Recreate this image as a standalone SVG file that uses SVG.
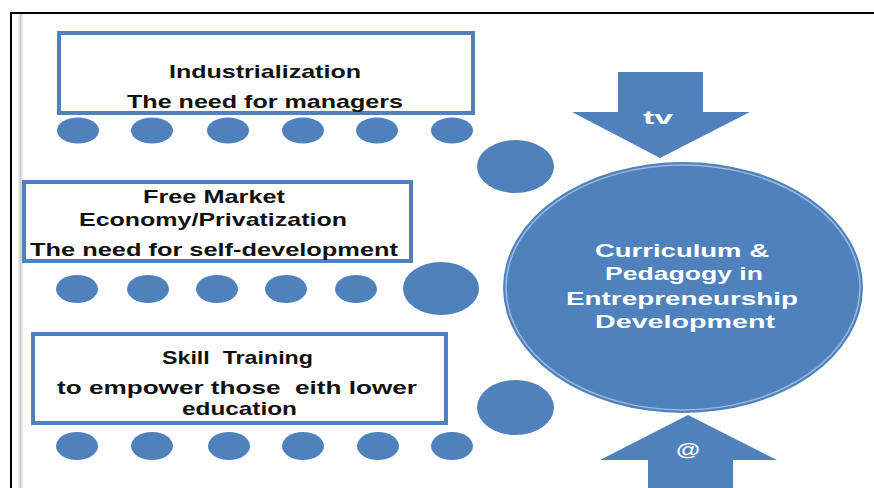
<svg xmlns="http://www.w3.org/2000/svg" width="874" height="488" viewBox="0 0 874 488">
  <defs>
    <linearGradient id="rule" x1="0" y1="0" x2="1" y2="0">
      <stop offset="0" stop-color="#f2f2f2"/>
      <stop offset="0.5" stop-color="#cfcfcf"/>
      <stop offset="1" stop-color="#f2f2f2"/>
    </linearGradient>
  </defs>
  <style>
    .box { fill: #ffffff; stroke: #4f81bd; stroke-width: 4; }
    .dot { fill: #4f81bd; }
    .txt { font-family: "Liberation Sans", Arial, sans-serif; font-weight: bold; font-size: 19px; fill: #111111; text-anchor: middle; white-space: pre; }
    .wtxt { font-family: "Liberation Sans", Arial, sans-serif; font-weight: bold; font-size: 19px; fill: #ffffff; text-anchor: middle; }
    .arrow { fill: #4f81bd; }
  </style>

  <!-- page frame -->
  <rect x="0" y="0" width="874" height="488" fill="#ffffff"/>
  <rect x="18" y="12" width="5" height="476" fill="url(#rule)"/>
  <line x1="11" y1="13" x2="874" y2="13" stroke="#000000" stroke-width="2"/>
  <line x1="11" y1="12" x2="11" y2="488" stroke="#000000" stroke-width="2"/>

  <!-- block arrows feeding the centre -->
  <g id="connectors">
    <g id="arrow-top">
      <polygon class="arrow" points="618,72 703,72 703,112 750,112 660,158 572,112 618,112"/>
      <text class="wtxt" x="658" y="124" textLength="30" lengthAdjust="spacingAndGlyphs">tv</text>
    </g>
    <g id="arrow-bottom">
      <polygon class="arrow" points="648,488 733,488 733,460 777,460 688,415 600,460 648,460"/>
      <text class="wtxt" x="688" y="456" font-size="17" textLength="24" lengthAdjust="spacingAndGlyphs">@</text>
    </g>
  </g>

  <!-- row 1 -->
  <g id="industrialization">
    <rect class="box" x="59" y="33" width="414" height="80"/>
    <text class="txt" x="265" y="78" textLength="192" lengthAdjust="spacingAndGlyphs">Industrialization</text>
    <text class="txt" x="265" y="108" textLength="276" lengthAdjust="spacingAndGlyphs">The need for managers</text>
  </g>
  <g id="row1-dots">
    <ellipse class="dot" cx="78" cy="130.5" rx="21" ry="13"/>
    <ellipse class="dot" cx="152" cy="130.5" rx="21" ry="13"/>
    <ellipse class="dot" cx="228" cy="130.5" rx="21" ry="13"/>
    <ellipse class="dot" cx="303" cy="130.5" rx="21" ry="13"/>
    <ellipse class="dot" cx="377" cy="130.5" rx="21" ry="13"/>
    <ellipse class="dot" cx="452" cy="130.5" rx="21" ry="13"/>
    <ellipse class="dot" cx="515.5" cy="166.5" rx="38.5" ry="26.5"/>
  </g>

  <!-- row 2 -->
  <g id="free-market">
    <rect class="box" x="24" y="182" width="387" height="79" stroke-width="3.5"/>
    <text class="txt" x="214" y="203" textLength="142" lengthAdjust="spacingAndGlyphs">Free Market</text>
    <text class="txt" x="213" y="226" textLength="268" lengthAdjust="spacingAndGlyphs">Economy/Privatization</text>
    <text class="txt" x="214" y="256" textLength="368" lengthAdjust="spacingAndGlyphs">The need for self-development</text>
  </g>
  <g id="row2-dots">
    <ellipse class="dot" cx="77" cy="289" rx="21" ry="14"/>
    <ellipse class="dot" cx="148" cy="289" rx="21" ry="14"/>
    <ellipse class="dot" cx="217" cy="289" rx="21" ry="14"/>
    <ellipse class="dot" cx="286" cy="289" rx="21" ry="14"/>
    <ellipse class="dot" cx="356" cy="289" rx="21" ry="14"/>
    <ellipse class="dot" cx="441" cy="288.5" rx="38" ry="26.5"/>
  </g>

  <!-- row 3 -->
  <g id="skill-training">
    <rect class="box" x="33" y="334" width="413" height="89"/>
    <text class="txt" x="237.5" y="364" xml:space="preserve" textLength="151" lengthAdjust="spacingAndGlyphs">Skill  Training</text>
    <text class="txt" x="237" y="394" xml:space="preserve" textLength="360" lengthAdjust="spacingAndGlyphs">to empower those  eith lower</text>
    <text class="txt" x="239.5" y="415" textLength="115" lengthAdjust="spacingAndGlyphs">education</text>
  </g>
  <g id="row3-dots">
    <ellipse class="dot" cx="77" cy="446" rx="21" ry="14"/>
    <ellipse class="dot" cx="152" cy="446" rx="21" ry="14"/>
    <ellipse class="dot" cx="229" cy="446" rx="21" ry="14"/>
    <ellipse class="dot" cx="303" cy="446" rx="21" ry="14"/>
    <ellipse class="dot" cx="378" cy="446" rx="21" ry="14"/>
    <ellipse class="dot" cx="452" cy="446" rx="21" ry="14"/>
    <ellipse class="dot" cx="515.5" cy="407.5" rx="38.5" ry="27.5"/>
  </g>

  <!-- centre -->
  <g id="curriculum">
    <ellipse cx="683" cy="287.5" rx="180" ry="125.5" fill="#4f81bd"/>
    <ellipse cx="683" cy="287.5" rx="177" ry="122.5" fill="none" stroke="#ffffff" stroke-opacity="0.45" stroke-width="1.5"/>
    <text class="wtxt" x="682" y="257" textLength="174" lengthAdjust="spacingAndGlyphs">Curriculum &amp;</text>
    <text class="wtxt" x="684" y="280" textLength="158" lengthAdjust="spacingAndGlyphs">Pedagogy in</text>
    <text class="wtxt" x="682" y="305" textLength="232" lengthAdjust="spacingAndGlyphs">Entrepreneurship</text>
    <text class="wtxt" x="685" y="328" textLength="180" lengthAdjust="spacingAndGlyphs">Development</text>
  </g>
</svg>
